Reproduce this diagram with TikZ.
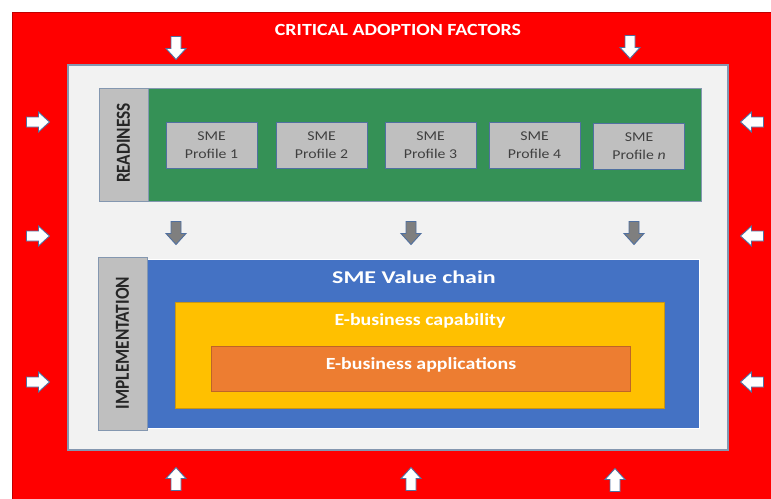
\documentclass[tikz,border=0pt]{standalone}
\usepackage{fontspec}
\setmainfont{Carlito}
\usepackage{graphicx}
\definecolor{bgred}{RGB}{255,0,0}
\definecolor{panel}{RGB}{242,242,242}
\definecolor{panelline}{RGB}{132,151,176}
\definecolor{green1}{RGB}{53,145,86}
\definecolor{stripgray}{RGB}{191,191,191}
\definecolor{boxline}{RGB}{80,112,160}
\definecolor{blue1}{RGB}{68,114,196}
\definecolor{yellow1}{RGB}{255,192,0}
\definecolor{yellowline}{RGB}{200,150,20}
\definecolor{orange1}{RGB}{237,125,49}
\definecolor{orangeline}{RGB}{190,100,40}
\definecolor{txtgray}{RGB}{64,64,64}
\definecolor{arrowgray}{RGB}{127,127,127}
\newcommand\hx[1]{\scalebox{1.17}[1]{#1}}
\newcommand\vx[1]{\scalebox{1}[1.15]{#1}}
\begin{document}
\begin{tikzpicture}[x=1pt,y=-1pt,
  rectbox/.style={anchor=north west,inner sep=0pt,outer sep=0pt},
  profile/.style={draw=boxline,line width=1pt,fill=stripgray,minimum width=91pt,minimum height=46pt,inner sep=0pt,
    font=\fontsize{13.5}{18}\selectfont,text=txtgray,align=center},
  bigtext/.style={font=\fontsize{17}{20}\selectfont\bfseries,text=white},
  sidetext/.style={rotate=90,font=\fontsize{17.3}{18}\selectfont\bfseries,text=black!85},
  barrow/.pic={\path[pic actions] (-11.5,-5) -- (0.5,-5) -- (0.5,-10) -- (11.5,0) -- (0.5,10) -- (0.5,5) -- (-11.5,5) -- cycle;},
  whitearrow/.style={fill=white,draw=boxline,line width=0.9pt},
  grayarrow/.style={fill=arrowgray,draw=boxline,line width=0.9pt}
]
\useasboundingbox (0,0) rectangle (771,498);
\fill[white] (0,0) rectangle (771,498);
% red background
\node (bg) [rectbox,fill=bgred,draw=red!75!black,line width=0.6pt,minimum width=760pt,minimum height=488pt] at (12,12) {};
\node (title) [bigtext] at (398,30) {\hx{CRITICAL ADOPTION FACTORS}};
% outer panel
\node (panel) [rectbox,fill=panel,draw=panelline,line width=1.2pt,minimum width=660pt,minimum height=385pt] at (68,65) {};
% readiness
\node (ready) [rectbox,fill=green1,draw=panelline,line width=1pt,minimum width=602pt,minimum height=113pt] at (99,88) {};
\node (readystrip) [rectbox,fill=stripgray,draw=panelline,line width=1pt,minimum width=49pt,minimum height=113pt] at (99,88) {};
\node (readylbl) [sidetext] at (123.5,143) {\vx{READINESS}};
\node (p1) [profile] at (211.5,145) {\hx{SME}\\\hx{Profile 1}};
\node (p2) [profile] at (321.5,145) {\hx{SME}\\\hx{Profile 2}};
\node (p3) [profile] at (430.5,145) {\hx{SME}\\\hx{Profile 3}};
\node (p4) [profile] at (534.5,145) {\hx{SME}\\\hx{Profile 4}};
\node (pn) [profile] at (639,146.5) {\hx{SME}\\\hx{Profile \textit{n}}};
% implementation
\node (value) [rectbox,fill=blue1,draw=white,line width=1pt,minimum width=552pt,minimum height=169pt] at (147,259) {};
\node (implstrip) [rectbox,fill=stripgray,draw=panelline,line width=1pt,minimum width=49pt,minimum height=173pt] at (98,257) {};
\node (impllbl) [sidetext] at (122.5,343) {\vx{IMPLEMENTATION}};
\node (valuelbl) [bigtext,font=\fontsize{18}{20}\selectfont\bfseries] at (414,277) {\scalebox{1.33}[1]{SME Value chain}};
\node (cap) [rectbox,fill=yellow1,draw=yellowline,line width=0.8pt,minimum width=489pt,minimum height=106pt] at (175,302) {};
\node (caplbl) [bigtext] at (420,321) {\hx{E-business capability}};
\node (apps) [rectbox,fill=orange1,draw=orangeline,line width=0.8pt,minimum width=419pt,minimum height=45pt] at (211,346) {};
\node (appslbl) [bigtext] at (421,365) {\hx{E-business applications}};
% arrows
\pic[whitearrow,rotate=-90] at (176,48) {barrow};
\pic[whitearrow,rotate=-90] at (630,47) {barrow};
\pic[whitearrow] at (38,122) {barrow};
\pic[whitearrow] at (38,236) {barrow};
\pic[whitearrow] at (38,382) {barrow};
\pic[whitearrow,rotate=180] at (752,122) {barrow};
\pic[whitearrow,rotate=180] at (752,236) {barrow};
\pic[whitearrow,rotate=180] at (752,382) {barrow};
\pic[whitearrow,rotate=90] at (176,479) {barrow};
\pic[whitearrow,rotate=90] at (411,479) {barrow};
\pic[whitearrow,rotate=90] at (615,480) {barrow};
\pic[grayarrow,rotate=-90] at (176,233) {barrow};
\pic[grayarrow,rotate=-90] at (411,233) {barrow};
\pic[grayarrow,rotate=-90] at (634,233) {barrow};
\end{tikzpicture}
\end{document}
